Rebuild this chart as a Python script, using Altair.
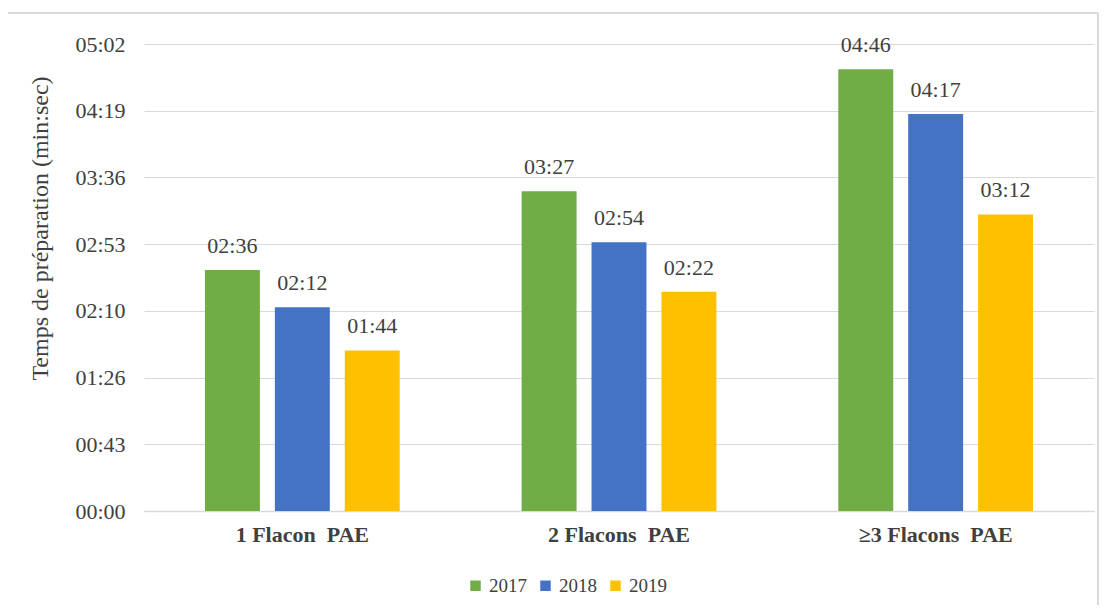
import altair as alt
import pandas as pd

categories = ["1 Flacon\u00a0 PAE", "2 Flacons\u00a0 PAE", "≥3 Flacons\u00a0 PAE"]
years = ["2017", "2018", "2019"]
# preparation time in seconds per category, per year
values_2017 = [156, 207, 286]
values_2018 = [132, 174, 257]
values_2019 = [104, 142, 192]
tick_values = [0, 43.2, 86.4, 129.6, 172.8, 216.0, 259.2, 302.4]
colors = ["#70AD47", "#4472C4", "#FFC000"]

rows = []
for i, c in enumerate(categories):
    for y, vals in zip(years, [values_2017, values_2018, values_2019]):
        rows.append({"cat": c, "year": y, "sec": vals[i]})
df = pd.DataFrame(rows)

font = "Liberation Serif"
W, H = 950, 467

fmt = ("(floor(round({v})/60) < 10 ? '0' : '') + floor(round({v})/60) + ':' + "
       "(round({v}) % 60 < 10 ? '0' : '') + (round({v}) % 60)")

base = alt.Chart(df).transform_calculate(
    label=fmt.format(v="datum.sec")
)

x = alt.X("cat:N", sort=categories, title=None,
          scale=alt.Scale(paddingInner=0.385, paddingOuter=0.1925),
          axis=alt.Axis(labelFont=font, labelFontSize=22, labelFontWeight="bold",
                        labelColor="#404040", labelPadding=13, ticks=False,
                        domainColor="#D9D9D9", domainWidth=1.5, labelAngle=0))
xo = alt.XOffset("year:N", sort=years, scale=alt.Scale(paddingInner=0.214, paddingOuter=0))
y = alt.Y("sec:Q", title="Temps de préparation (min:sec)",
          scale=alt.Scale(domain=[0, 302.4], nice=False, zero=True),
          axis=alt.Axis(values=tick_values, labelExpr=fmt.format(v="datum.value"),
                        labelFont=font, labelFontSize=22, labelColor="#404040",
                        labelPadding=19, ticks=False, domain=False,
                        gridColor="#D9D9D9", gridWidth=1,
                        titleFont=font, titleFontSize=24, titleFontWeight="normal",
                        titleColor="#404040", titlePadding=22, titleY=184))

bars = base.mark_bar().encode(
    x=x, xOffset=xo, y=y,
    color=alt.Color("year:N", sort=years,
                    scale=alt.Scale(domain=years, range=colors),
                    legend=alt.Legend(title=None, orient="none", direction="horizontal",
                                      legendX=322, legendY=532,
                                      symbolType="square", symbolSize=110,
                                      symbolStrokeWidth=0,
                                      labelFont=font, labelFontSize=19,
                                      labelColor="#404040", labelOffset=4,
                                      columnPadding=9)),
)

labels = base.mark_text(baseline="alphabetic", dy=-17, font=font, fontSize=22,
                        color="#404040").encode(
    x=alt.X("cat:N", sort=categories), xOffset=alt.XOffset("year:N", sort=years),
    y="sec:Q", text="label:N"
)

frame = alt.Chart(df).mark_rect(fill=None, stroke="#D9D9D9", strokeWidth=1).encode(
    x=alt.value(-139), x2=alt.value(W + 4), y=alt.value(-31), y2=alt.value(H + 95)
)

chart = alt.layer(frame, bars, labels).properties(
    width=W, height=H,
    autosize=alt.AutoSizeParams(type="none"),
    padding={"left": 136, "top": 36, "right": 6, "bottom": 94},
).configure_view(stroke=None)

chart.save("out.html", embed_options={"renderer": "svg", "actions": False})
